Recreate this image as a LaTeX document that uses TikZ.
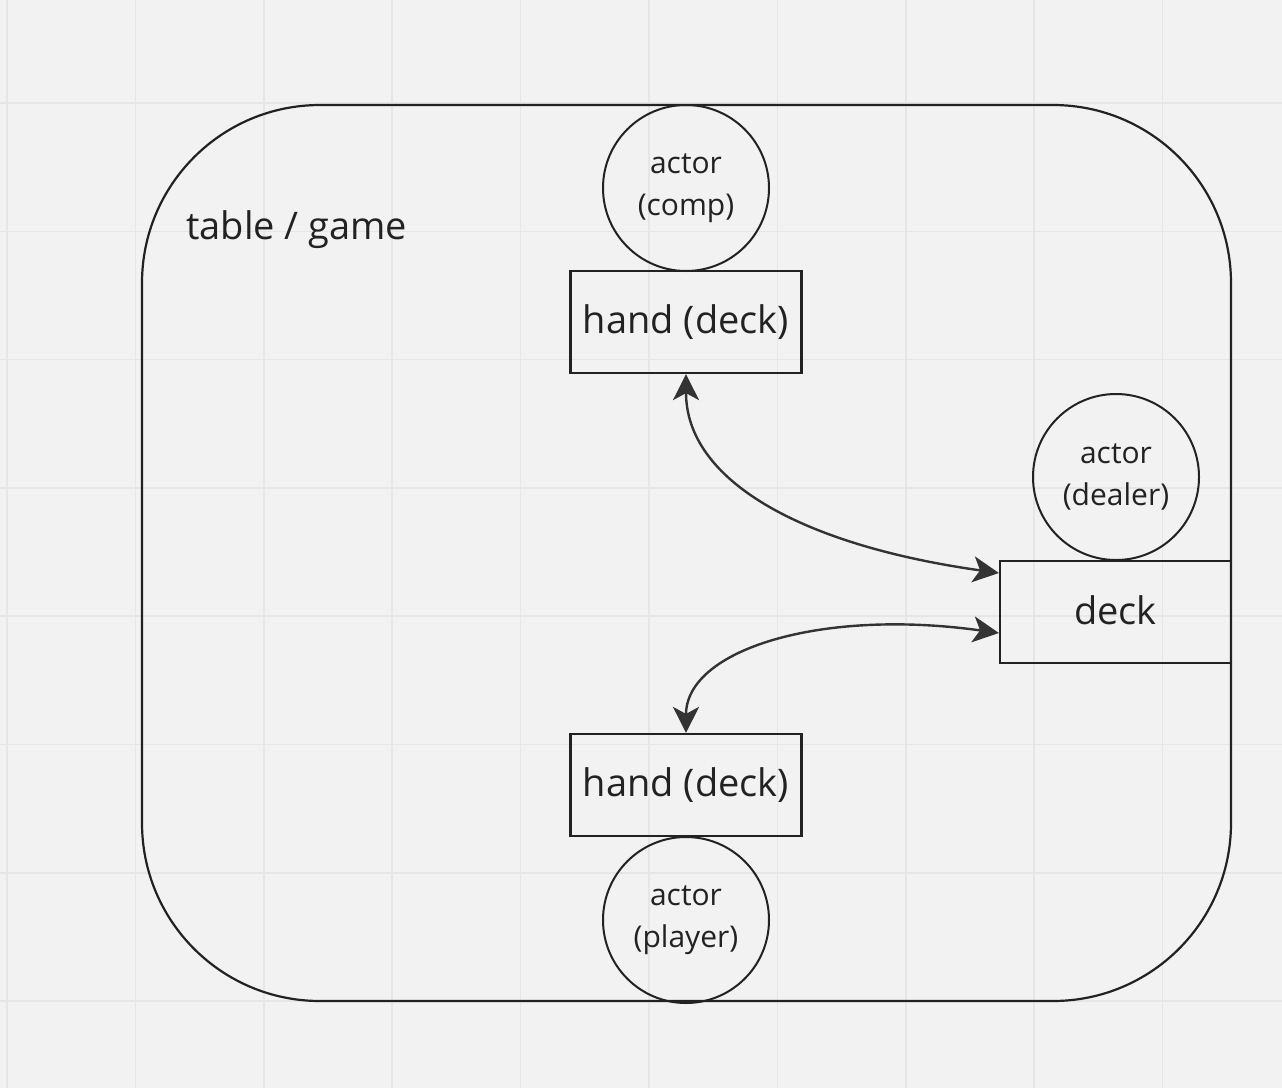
\documentclass[tikz,border=0pt]{standalone}
\usepackage{fontspec}
\setmainfont{Open Sans}
\usetikzlibrary{arrows.meta}
\definecolor{bg}{HTML}{F2F2F2}
\definecolor{gridc}{HTML}{E6E6E6}
\definecolor{ink}{HTML}{222222}
\definecolor{arr}{HTML}{333333}
\tikzset{
  box/.style={draw=ink, line width=2.2pt, minimum width=231pt, minimum height=102pt, inner sep=0pt, text=ink, font=\fontsize{38}{46}\selectfont},
  actorc/.style={circle, draw=ink, line width=2pt, minimum size=166pt, inner sep=0pt, text=ink, align=center, font=\fontsize{30}{42}\selectfont},
  link/.style={draw=arr, line width=2.4pt, arrows={Stealth[length=26pt,width=26pt,inset=7pt,fill=arr]-Stealth[length=26pt,width=26pt,inset=7pt,fill=arr]}},
}
\begin{document}
\begin{tikzpicture}[x=1pt,y=-1pt]
\useasboundingbox (0,0) rectangle (1282,1088);
\fill[bg] (0,0) rectangle (1282,1088);
\foreach \i in {0,...,9} {
  \draw[gridc, line width=1.5pt] ({7+128.4*\i},0) -- ({7+128.4*\i},1088);
}
\foreach \j in {0,...,7} {
  \draw[gridc, line width=1.5pt] (0,{103+128.3*\j}) -- (1282,{103+128.3*\j});
}
% table
\draw[ink, line width=2.2pt, rounded corners=178pt] (142,105) rectangle (1231,1001);
\node[anchor=base west, text=ink, font=\fontsize{38}{46}\selectfont, inner sep=0pt] (title) at (186,239) {table / game};
% nodes
\node[actorc] (comp) at (686,188) {actor\\(comp)};
\node[box] (handt) at (686,322) {hand (deck)};
\node[actorc] (dealer) at (1116,477) {actor\\(dealer)};
\node[box] (deck) at (1115.5,612) {\raisebox{3pt}{deck}};
\node[box] (handb) at (686,785) {hand (deck)};
\node[actorc] (player) at (686,920) {actor\\(player)};
% connectors
\draw[link] (handt.south) .. controls (686,480) and (800,545) .. ([yshift=39pt]deck.west);
\draw[link] (handb.north) .. controls (686,650) and (820,608) .. ([yshift=-21pt]deck.west);
\end{tikzpicture}
\end{document}
